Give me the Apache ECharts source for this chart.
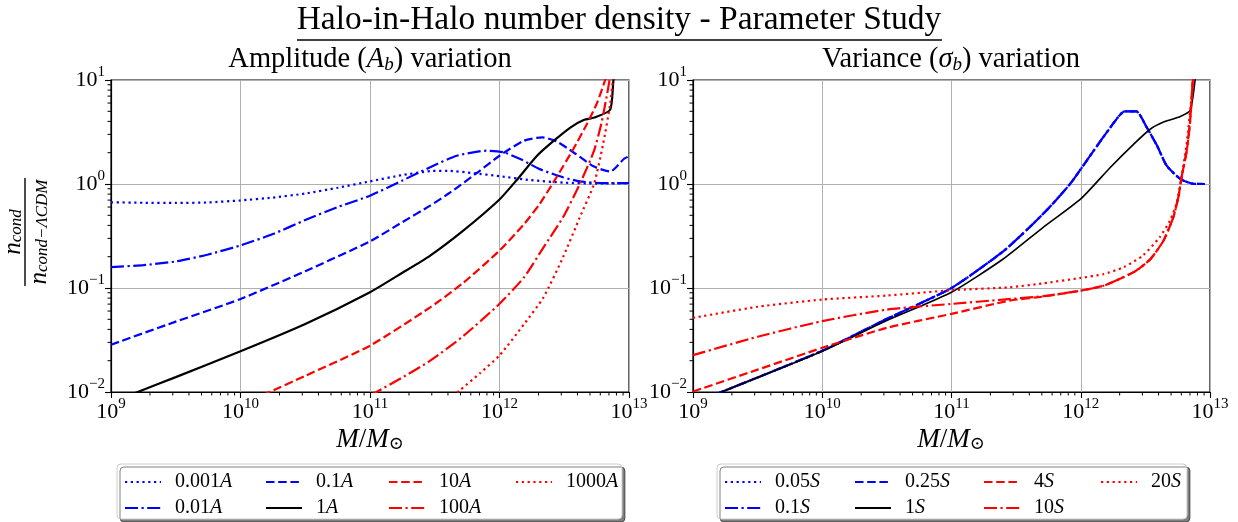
<!DOCTYPE html>
<html><head><meta charset="utf-8">
<script src="https://cdn.jsdelivr.net/npm/echarts@6/dist/echarts.min.js"></script>
<style>html,body{margin:0;padding:0;background:#fff}#c{width:1238px;height:522px}</style>
</head><body><div id="c"></div>
<script>
// ---------- data (mass as log10(M/Msun), values as n_cond / n_cond-LCDM) ----------
const titleMain = 'Halo-in-Halo number density - Parameter Study';
const titleLeft = 'Amplitude ({i|A}{sub|b}) variation';
const titleRight = 'Variance ({i|σ}{sub|b}) variation';
const xRange = [1e9, 1e13];
const yRange = [1e-2, 1e1];
const xDecades = [9, 10, 11, 12];
const yDecades = [-2, -1, 0];
const minorMultipliers = [2, 3, 4, 5, 6, 7, 8, 9];

// Left panel: amplitude variation
const mA0001 = [9.0, 9.25, 9.5, 9.75, 10.0, 10.25, 10.5, 10.75, 11.0, 11.25, 11.465, 11.6, 11.8, 12.0, 12.24, 12.5, 12.75, 13.0];
const nA0001 = [0.667, 0.66, 0.657, 0.665, 0.695, 0.74, 0.81, 0.92, 1.06, 1.22, 1.33, 1.34, 1.27, 1.19, 1.09, 1.03, 1.01, 1.02];
const mA001 = [9.0, 9.25, 9.5, 9.75, 10.0, 10.25, 10.5, 10.75, 11.0, 11.25, 11.465, 11.67, 11.9, 12.03, 12.16, 12.31, 12.49, 12.62, 12.8, 13.0];
const nA001 = [0.159, 0.166, 0.18, 0.21, 0.257, 0.33, 0.45, 0.6, 0.772, 1.08, 1.45, 1.87, 2.09, 2.02, 1.74, 1.39, 1.16, 1.06, 1.02, 1.02];
const mA01 = [9.0, 9.5, 10.0, 10.5, 11.0, 11.25, 11.465, 11.62, 11.83, 12.0, 12.19, 12.33, 12.44, 12.57, 12.73, 12.855, 12.96, 13.0];
const nA01 = [0.0285, 0.0475, 0.0784, 0.145, 0.281, 0.43, 0.62, 0.83, 1.29, 1.87, 2.61, 2.81, 2.57, 2.02, 1.47, 1.32, 1.74, 1.85];
const mA1 = [9.0, 9.206, 9.5, 10.0, 10.5, 11.0, 11.25, 11.465, 11.72, 12.0, 12.13, 12.29, 12.42, 12.55, 12.65, 12.74, 12.855, 12.88, 12.92];
const nA1 = [0.0079, 0.01, 0.0139, 0.0246, 0.045, 0.091, 0.14, 0.205, 0.356, 0.71, 1.08, 1.87, 2.61, 3.51, 4.12, 4.38, 5.19, 10, 20];
const mA10 = [10.0, 10.224, 10.5, 11.0, 11.465, 11.72, 12.0, 12.19, 12.31, 12.44, 12.57, 12.675, 12.75, 12.816, 12.85];
const nA10 = [0.0074, 0.01, 0.0143, 0.0279, 0.0652, 0.112, 0.229, 0.412, 0.642, 1.16, 2.17, 3.77, 5.88, 10, 14];
const mA100 = [11.0, 11.05, 11.25, 11.465, 11.72, 12.0, 12.19, 12.34, 12.49, 12.62, 12.73, 12.79, 12.84, 12.85, 12.87];
const nA100 = [0.0093, 0.01, 0.0138, 0.02, 0.0345, 0.0705, 0.127, 0.246, 0.478, 1.0, 2.09, 3.98, 8.5, 10, 14];
const mA1000 = [11.6, 11.69, 11.85, 12.0, 12.19, 12.34, 12.49, 12.62, 12.73, 12.8, 12.855, 12.876, 12.9];
const nA1000 = [0.0085, 0.0103, 0.0152, 0.0225, 0.045, 0.0814, 0.197, 0.478, 1.0, 2.42, 5.9, 10, 14];

// Right panel: variance variation
const mSblue = [9.0, 9.5, 10.0, 10.5, 11.0, 11.4, 11.6, 11.76, 11.92, 12.0, 12.1, 12.23, 12.34, 12.43, 12.51, 12.59, 12.665, 12.77, 12.86, 12.96];
const nS005 = [0.0078, 0.0138, 0.0249, 0.0505, 0.1, 0.225, 0.38, 0.6, 1.01, 1.39, 2.09, 3.51, 5.0, 5.0, 3.51, 2.34, 1.5, 1.12, 1.01, 1.0];
const nS01 = [0.0078, 0.0138, 0.0249, 0.0505, 0.1, 0.225, 0.38, 0.6, 1.01, 1.39, 2.09, 3.51, 5.0, 5.0, 3.51, 2.34, 1.5, 1.12, 1.01, 1.0];
const nS025 = [0.0078, 0.0138, 0.0249, 0.0505, 0.1, 0.225, 0.38, 0.6, 1.01, 1.39, 2.09, 3.51, 5.0, 5.0, 3.51, 2.34, 1.5, 1.12, 1.01, 1.0];
const mS1 = [9.0, 9.222, 9.5, 10.0, 10.5, 11.0, 11.4, 11.7, 12.0, 12.23, 12.41, 12.54, 12.65, 12.755, 12.846, 12.885, 12.92];
const nS1 = [0.0078, 0.01, 0.0138, 0.0247, 0.0487, 0.0911, 0.19, 0.375, 0.718, 1.45, 2.42, 3.38, 3.98, 4.38, 5.07, 10, 20];
const mS4 = [9.0, 9.5, 10.0, 10.5, 11.0, 11.45, 11.71, 12.0, 12.175, 12.3, 12.43, 12.54, 12.64, 12.716, 12.755, 12.78, 12.82, 12.846, 12.867, 12.88];
const nS4 = [0.0101, 0.0164, 0.0266, 0.0414, 0.0564, 0.0756, 0.0827, 0.0944, 0.105, 0.122, 0.147, 0.19, 0.285, 0.478, 0.745, 1.16, 2.09, 3.98, 10, 14];
const mS10 = [9.0, 9.5, 10.0, 10.5, 11.0, 11.4, 11.71, 12.0, 12.175, 12.3, 12.43, 12.54, 12.64, 12.716, 12.755, 12.78, 12.82, 12.846, 12.867, 12.88];
const nS10 = [0.0226, 0.034, 0.048, 0.062, 0.0703, 0.0774, 0.0835, 0.0944, 0.105, 0.122, 0.147, 0.19, 0.285, 0.478, 0.745, 1.16, 2.09, 3.98, 10, 14];
const mS20 = [9.0, 9.5, 10.0, 10.5, 11.0, 11.45, 11.71, 12.0, 12.175, 12.33, 12.48, 12.61, 12.69, 12.74, 12.78, 12.82, 12.86, 12.87, 12.88];
const nS20 = [0.0516, 0.066, 0.0774, 0.0846, 0.0952, 0.1016, 0.111, 0.125, 0.136, 0.158, 0.205, 0.307, 0.444, 0.642, 1.16, 2.5, 7.4, 10, 14];

const legendLeftCols = [['0.001A', '0.01A'], ['0.1A', '1A'], ['10A', '100A'], ['1000A']];
const legendRightCols = [['0.05S', '0.1S'], ['0.25S', '1S'], ['4S', '10S'], ['20S']];

// ---------- styling ----------
const F = '"Liberation Serif", "DejaVu Serif", serif';
const BLUE = '#0000ff', RED = '#ff0000', BLACK = '#000000';
const DOT = [2.2, 3.6], DASH = [8.5, 3.7], DASHDOT = [13, 3.5, 2.2, 3.5], SOLID = 'solid';

function line(name, gi, m, n, color, dash, width) {
  return {
    name, type: 'line', xAxisIndex: gi, yAxisIndex: gi,
    data: m.map((v, i) => [Math.pow(10, v), n[i]]),
    symbol: 'none', showSymbol: false, smooth: 0.2, clip: true,
    lineStyle: { color, width, type: dash, cap: 'butt' }, itemStyle: { color },
    emphasis: { disabled: true }, animation: false
  };
}

const xMinor = xDecades.flatMap(d => minorMultipliers.map(k => k * Math.pow(10, d)));
const yMinor = yDecades.flatMap(d => minorMultipliers.map(k => +(k * Math.pow(10, d)).toPrecision(3)));
function minorTicks(gi, vals, isX) {
  return {
    type: 'custom', xAxisIndex: gi, yAxisIndex: gi, silent: true, clip: false, z: 20,
    data: vals.map(v => isX ? [v, yRange[0]] : [xRange[0], v]),
    encode: { x: 0, y: 1 },
    renderItem: (params, api) => {
      const p = api.coord([api.value(0), api.value(1)]);
      return {
        type: 'line',
        shape: isX ? { x1: p[0], y1: p[1], x2: p[0], y2: p[1] + 3.5 } : { x1: p[0] - 3.5, y1: p[1], x2: p[0], y2: p[1] },
        style: { stroke: '#000', lineWidth: 1 }
      };
    }
  };
}

const supRich = {
  b: { fontFamily: F, fontSize: 22, color: '#000', lineHeight: 30 },
  sup: { fontFamily: F, fontSize: 15, color: '#000', verticalAlign: 'top', lineHeight: 16 }
};
function powLabel(v) {
  const e = Math.round(Math.log10(v));
  return '{b|10}{sup|' + (e < 0 ? '\u2212' + (-e) : e) + '}';
}

function xAxis(gi) {
  return {
    type: 'log', logBase: 10, gridIndex: gi, min: xRange[0], max: xRange[1],
    axisLine: { show: true, lineStyle: { color: '#000', width: 1.2 } },
    axisTick: { show: true, inside: false, length: 6, lineStyle: { color: '#000', width: 1.1 } },
    splitLine: { show: true, lineStyle: { color: '#b0b0b0', width: 1 } },
    axisLabel: { formatter: powLabel, rich: supRich, margin: 5 }
  };
}
function yAxis(gi) {
  return {
    type: 'log', logBase: 10, gridIndex: gi, min: yRange[0], max: yRange[1],
    axisLine: { show: true, lineStyle: { color: '#000', width: 1.2 } },
    axisTick: { show: true, inside: false, length: 6, lineStyle: { color: '#000', width: 1.1 } },
    splitLine: { show: true, lineStyle: { color: '#b0b0b0', width: 1 } },
    axisLabel: { formatter: powLabel, rich: supRich, margin: 6 }
  };
}

function legendCols(cols, lefts) {
  return cols.map((names, i) => ({
    orient: 'vertical', left: lefts[i], top: 472, height: 50, padding: 0,
    itemWidth: 36, itemHeight: 14, itemGap: 6,
    data: names, selectedMode: false,
    itemStyle: { color: 'rgba(0,0,0,0)', borderWidth: 0, opacity: 0 },
    formatter: nm => nm.replace(/([AS])$/, '{i|$1}'),
    textStyle: {
      fontFamily: F, fontSize: 20, color: '#000', padding: [0, 0, 0, 9],
      rich: { i: { fontFamily: F, fontSize: 20, fontStyle: 'italic', color: '#000' } }
    }
  }));
}

const titleRich = {
  i: { fontFamily: F, fontSize: 28.5, fontStyle: 'italic', fill: '#000' },
  sub: { fontFamily: F, fontSize: 19, fontStyle: 'italic', fill: '#000', verticalAlign: 'bottom', lineHeight: 14 }
};
const xNameRich = {
  i: { fontFamily: F, fontSize: 27, fontStyle: 'italic', fill: '#000' },
  sub: { fontFamily: F, fontSize: 18, fontStyle: 'italic', fill: '#000', verticalAlign: 'bottom', lineHeight: 14 }
};
const fracRich = {
  i: { fontFamily: F, fontSize: 25, fontStyle: 'italic', fill: '#000' },
  s: { fontFamily: F, fontSize: 17, fontStyle: 'italic', fill: '#000', verticalAlign: 'bottom', lineHeight: 12 }
};

const option = {
  backgroundColor: '#fff',
  animation: false,
  grid: [
    { left: 111, top: 80, width: 518, height: 312, show: true, borderColor: '#000', borderWidth: 1.2, backgroundColor: 'transparent' },
    { left: 693, top: 80, width: 517, height: 312, show: true, borderColor: '#000', borderWidth: 1.2, backgroundColor: 'transparent' }
  ],
  xAxis: [xAxis(0), xAxis(1)],
  yAxis: [yAxis(0), yAxis(1)],
  legend: legendCols(legendLeftCols, [124, 265, 388, 515]).concat(legendCols(legendRightCols, [724, 854, 983, 1100])),
  series: [
    line('0.001A', 0, mA0001, nA0001, BLUE, DOT, 2.2),
    line('0.01A', 0, mA001, nA001, BLUE, DASHDOT, 2.2),
    line('0.1A', 0, mA01, nA01, BLUE, DASH, 2.2),
    line('1A', 0, mA1, nA1, BLACK, SOLID, 2.2),
    line('10A', 0, mA10, nA10, RED, DASH, 2.2),
    line('100A', 0, mA100, nA100, RED, DASHDOT, 2.2),
    line('1000A', 0, mA1000, nA1000, RED, DOT, 2.2),
    line('0.05S', 1, mSblue, nS005, BLUE, DOT, 2.2),
    line('0.1S', 1, mSblue, nS01, BLUE, DASHDOT, 2.2),
    line('0.25S', 1, mSblue, nS025, BLUE, DASH, 2.2),
    line('1S', 1, mS1, nS1, BLACK, SOLID, 1.6),
    line('4S', 1, mS4, nS4, RED, DASH, 2.2),
    line('10S', 1, mS10, nS10, RED, DASHDOT, 2.2),
    line('20S', 1, mS20, nS20, RED, DOT, 2.2),
    minorTicks(0, xMinor, true), minorTicks(0, yMinor, false),
    minorTicks(1, xMinor, true), minorTicks(1, yMinor, false)
  ],
  graphic: [
    { type: 'text', x: 619, y: 20, style: { text: titleMain, align: 'center', verticalAlign: 'middle', fontFamily: F, fontSize: 33.5, fill: '#000' } },
    { type: 'line', shape: { x1: 297, y1: 40, x2: 942, y2: 40 }, style: { stroke: '#000', lineWidth: 1.5 } },
    { type: 'text', x: 370, y: 60, style: { text: titleLeft, align: 'center', verticalAlign: 'middle', fontFamily: F, fontSize: 28.5, fill: '#000', rich: titleRich } },
    { type: 'text', x: 951, y: 60, style: { text: titleRight, align: 'center', verticalAlign: 'middle', fontFamily: F, fontSize: 28.5, fill: '#000', rich: titleRich } },
    { type: 'text', x: 370, y: 440, style: { text: '{i|M}/{i|M}{sub|\u2299}', align: 'center', verticalAlign: 'middle', fontFamily: F, fontSize: 27, fill: '#000', rich: xNameRich } },
    { type: 'text', x: 951, y: 440, style: { text: '{i|M}/{i|M}{sub|\u2299}', align: 'center', verticalAlign: 'middle', fontFamily: F, fontSize: 27, fill: '#000', rich: xNameRich } },
    {
      type: 'group', x: 25, y: 232, rotation: Math.PI / 2,
      children: [
        { type: 'text', x: 0, y: -12, style: { text: '{i|n}{s|cond}', align: 'center', verticalAlign: 'middle', rich: fracRich } },
        { type: 'line', shape: { x1: -54, y1: 0, x2: 54, y2: 0 }, style: { stroke: '#000', lineWidth: 1.4 } },
        { type: 'text', x: 0, y: 14, style: { text: '{i|n}{s|cond\u2212\u039BCDM}', align: 'center', verticalAlign: 'middle', rich: fracRich } }
      ]
    },
    { type: 'rect', z: -1, shape: { x: 117, y: 464, width: 505, height: 55, r: 4 }, style: { fill: '#fff', stroke: '#cccccc', lineWidth: 1, shadowColor: 'rgba(0,0,0,0.5)', shadowOffsetX: 3, shadowOffsetY: 3, shadowBlur: 0 } },
    { type: 'rect', z: -1, shape: { x: 717, y: 464, width: 470, height: 55, r: 4 }, style: { fill: '#fff', stroke: '#cccccc', lineWidth: 1, shadowColor: 'rgba(0,0,0,0.5)', shadowOffsetX: 3, shadowOffsetY: 3, shadowBlur: 0 } }
  ]
};
const chart = echarts.init(document.getElementById('c'), null, { renderer: 'canvas' });
chart.setOption(option);
</script></body></html>
